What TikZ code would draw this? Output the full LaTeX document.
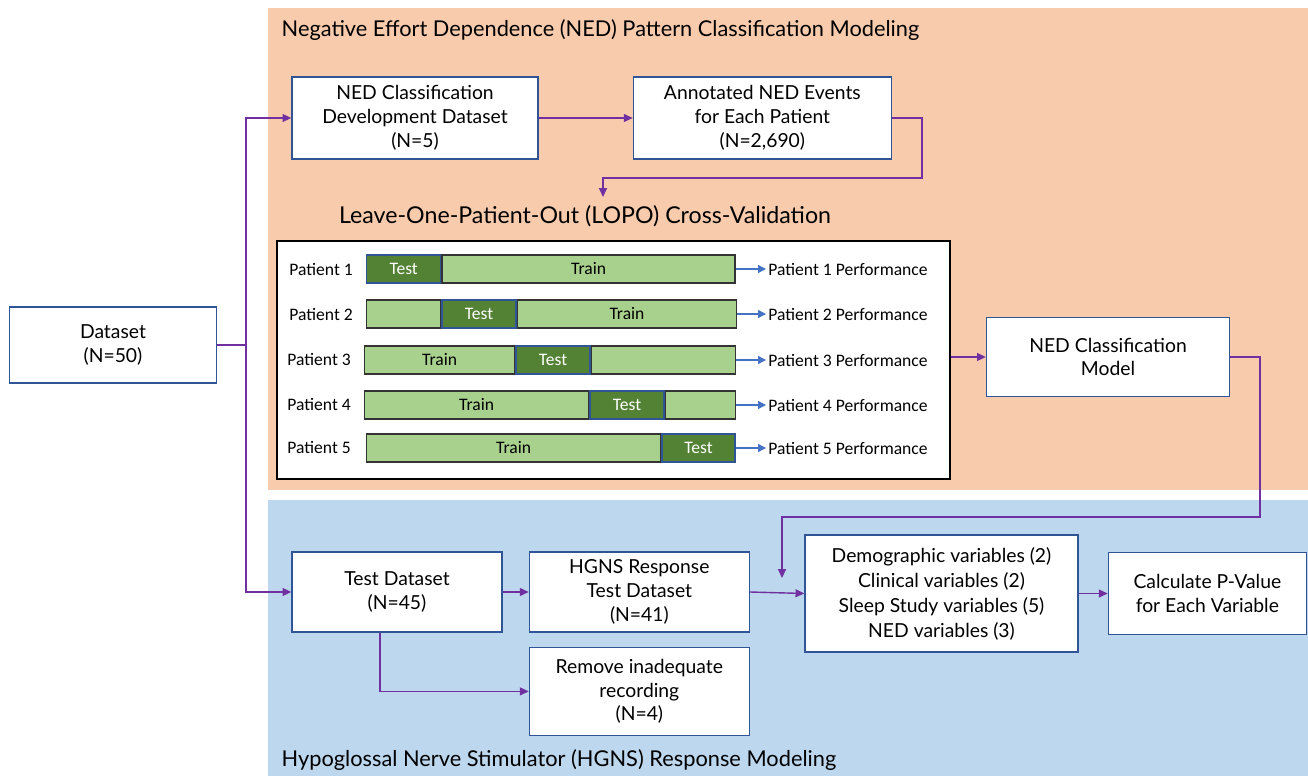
\documentclass[tikz,border=0pt]{standalone}
\usepackage{fontspec}
\setmainfont{Lato}
\newfontfamily\calibri{Carlito}
\usetikzlibrary{positioning, arrows.meta}

\definecolor{nedorange}{HTML}{F8CBAD}
\definecolor{hgnsblue}{HTML}{BDD7EE}
\definecolor{boxblue}{HTML}{2F5597}
\definecolor{flowpurple}{HTML}{7030A0}
\definecolor{perfblue}{HTML}{4472C4}
\definecolor{trainlight}{HTML}{A9D18E}
\definecolor{testdark}{HTML}{548235}

\begin{document}
\begin{tikzpicture}[x=0.02cm, y=-0.02cm, line width=0.8pt,
    flowbox/.style={draw=boxblue, fill=white, align=center, inner sep=2pt,
        font=\fontsize{11}{13.6}\selectfont},
    flow/.style={draw=flowpurple, line width=0.8pt, -{Triangle[length=5pt, width=4.5pt]}},
    areatitle/.style={anchor=west, inner sep=0pt, font=\fontsize{12.4}{14}\selectfont},
    seg/.style={minimum height=0.56cm, inner sep=0pt, font=\calibri\fontsize{10}{12}\selectfont},
    trainseg/.style={seg, draw=black!80, fill=trainlight},
    testseg/.style={seg, draw=boxblue, fill=testdark, text=white},
    perf/.style={anchor=west, inner sep=1pt, font=\calibri\fontsize{10}{12}\selectfont},
    perfarrow/.style={draw=perfblue, line width=0.7pt, -{Triangle[length=4.5pt, width=4.5pt]}}]
    \useasboundingbox (0,0) rectangle (1308,776);

    % the two modelling areas
    \fill[nedorange] (268,8) rectangle (1308,490);
    \fill[hgnsblue] (268,500) rectangle (1308,776);
    \node[areatitle] (nedtitle) at (281,30) {Negative Effort Dependence (NED) Pattern Classification Modeling};
    \node[areatitle] (hgnstitle) at (281,760) {Hypoglossal Nerve Stimulator (HGNS) Response Modeling};

    \node[flowbox, minimum width=4.14cm, minimum height=1.52cm] (dataset) at (113,345) {Dataset\\(N=50)};

    % NED classification
    \node[flowbox, minimum width=4.92cm, minimum height=1.64cm] (devset) at (415,118) {NED Classification\\Development Dataset\\(N=5)};
    \node[flowbox, minimum width=5.16cm, minimum height=1.64cm, right=1.88cm of devset] (annot) {Annotated NED Events\\for Each Patient\\(N=2,690)};
    \node[inner sep=0pt, font=\fontsize{13.2}{15}\selectfont] (lopotitle) at (585,216) {Leave-One-Patient-Out (LOPO) Cross-Validation};
    \coordinate (lopoin) at (603,197);

    \node[draw=black, fill=white, minimum width=13.46cm, minimum height=4.76cm] (panel) at (613.5,360) {};

    \node[perf] (pat1) at (287,269) {Patient 1};
    \node[perf] (pat2) at (287,314) {Patient 2};
    \node[perf] (pat3) at (285,359) {Patient 3};
    \node[perf] (pat4) at (285,404) {Patient 4};
    \node[perf] (pat5) at (285,447) {Patient 5};

    \node[testseg, anchor=west, minimum width=1.48cm] (test1) at (366,269) {Test};
    \node[trainseg, right=0pt of test1, minimum width=5.86cm] (train1) {Train};

    \node[trainseg, anchor=west, minimum width=1.48cm] (pre2) at (366,314) {};
    \node[testseg, right=0pt of pre2, minimum width=1.48cm] (test2) {Test};
    \node[trainseg, right=0pt of test2, minimum width=4.38cm] (train2) {Train};

    \node[trainseg, anchor=west, minimum width=3.0cm] (train3) at (364,360) {Train};
    \node[testseg, right=0pt of train3, minimum width=1.48cm] (test3) {Test};
    \node[trainseg, right=0pt of test3, minimum width=2.88cm] (post3) {};

    \node[trainseg, anchor=west, minimum width=4.48cm] (train4) at (364,405) {Train};
    \node[testseg, right=0pt of train4, minimum width=1.48cm] (test4) {Test};
    \node[trainseg, right=0pt of test4, minimum width=1.4cm] (post4) {};

    \node[trainseg, anchor=west, minimum width=5.88cm] (train5) at (366,448) {Train};
    \node[testseg, right=0pt of train5, minimum width=1.46cm] (test5) {Test};

    \node[perf] (perf1) at (766,269) {Patient 1 Performance};
    \node[perf] (perf2) at (766,314) {Patient 2 Performance};
    \node[perf] (perf3) at (766,360) {Patient 3 Performance};
    \node[perf] (perf4) at (766,405) {Patient 4 Performance};
    \node[perf] (perf5) at (766,448) {Patient 5 Performance};

    \draw[perfarrow] (train1.east) -- (perf1.west);
    \draw[perfarrow] (train2.east) -- (perf2.west);
    \draw[perfarrow] (post3.east) -- (perf3.west);
    \draw[perfarrow] (post4.east) -- (perf4.west);
    \draw[perfarrow] (test5.east) -- (perf5.west);

    \node[flowbox, minimum width=4.86cm, minimum height=1.58cm] (model) at (1108,357) {NED Classification\\Model};

    % HGNS response
    \node[flowbox, minimum width=4.2cm, minimum height=1.6cm] (testset) at (397,592) {Test Dataset\\(N=45)};
    \node[flowbox, minimum width=4.4cm, minimum height=1.6cm, right=0.52cm of testset] (hgnsset) {HGNS Response\\Test Dataset\\(N=41)};
    \node[flowbox, minimum width=4.4cm, minimum height=1.76cm, below=0.28cm of hgnsset] (remove) {Remove inadequate\\recording\\(N=4)};
    \node[flowbox, minimum width=5.46cm, minimum height=2.34cm, font=\fontsize{11}{14.2}\selectfont] (vars) at (941.5,593.5) {Demographic variables (2)\\Clinical variables (2)\\Sleep Study variables (5)\\NED variables (3)};
    \node[flowbox, minimum width=3.96cm, minimum height=1.64cm, right=0.58cm of vars] (pvalue) {Calculate P-Value\\for Each Variable};
    \coordinate (varsin) at (782,578);

    \draw[flowpurple] (dataset.east) -- ++(29,0) coordinate (split);
    \draw[flow] (split) |- (devset.west);
    \draw[flow] (split) |- (testset.west);
    \draw[flow] (devset) -- (annot);
    \draw[flow] (annot.east) -- ++(30,0) -- ++(0,60) -| (lopoin);
    \draw[flow] (panel.east |- model.west) -- (model.west);
    \draw[flow] (model.east) -- ++(30,0) |- (782,517) -- (varsin);
    \draw[flow] (testset) -- (hgnsset);
    \draw[flow] ([xshift=-0.34cm]testset.south) |- (remove.west);
    \draw[flow] (hgnsset.east) -- (vars.west);
    \draw[flow] (vars) -- (pvalue);
\end{tikzpicture}
\end{document}
